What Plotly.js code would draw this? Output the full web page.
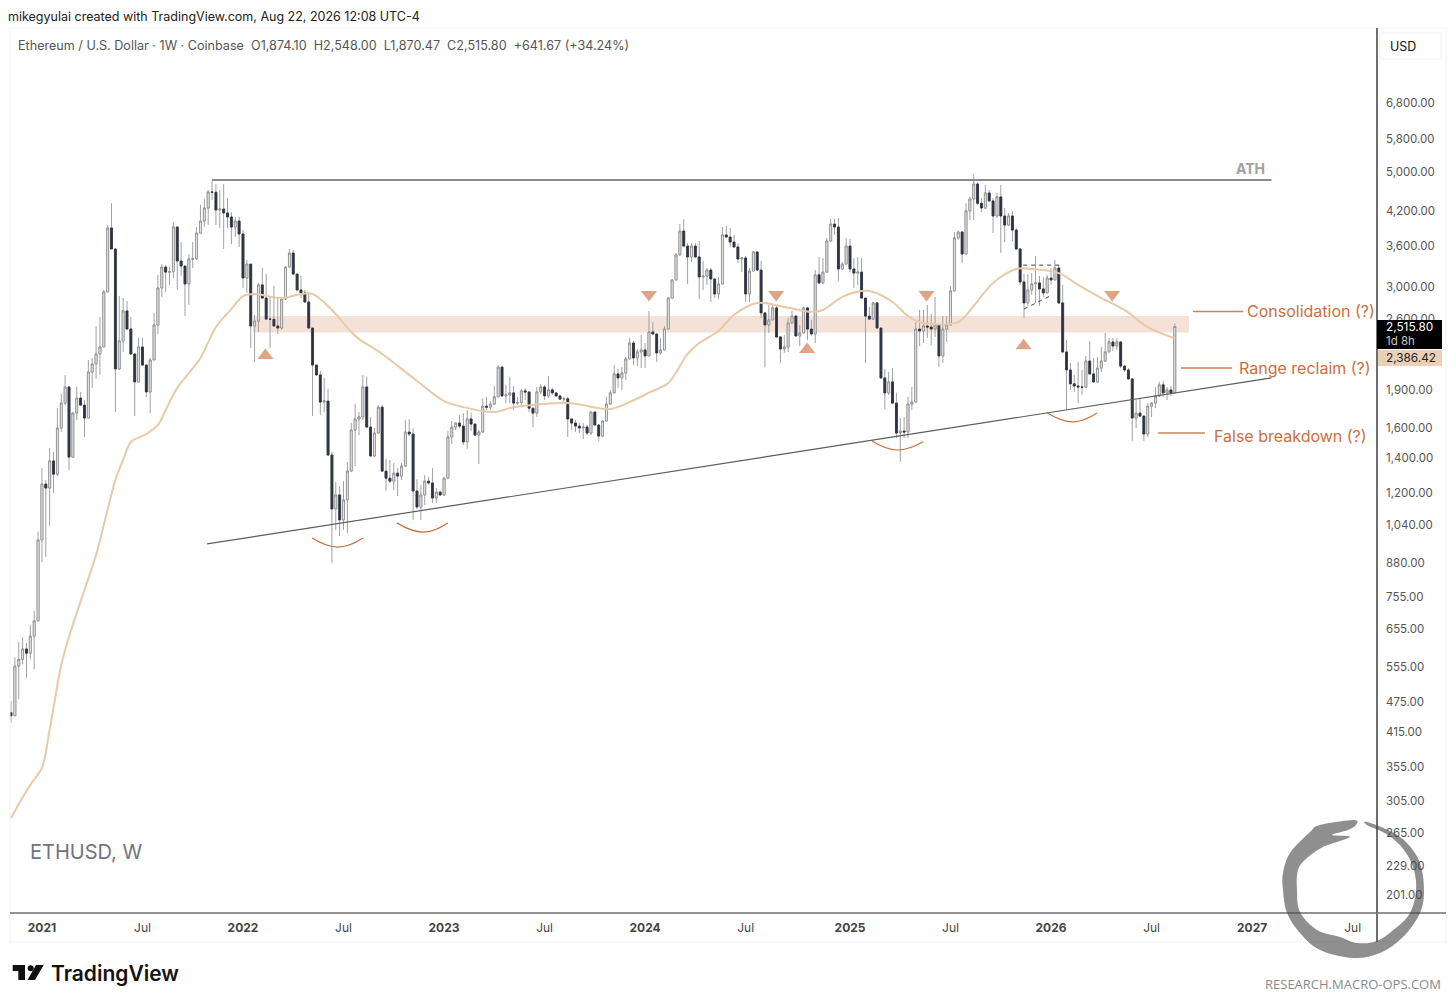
<!DOCTYPE html>
<html>
<head>
<meta charset="utf-8">
<title>ETHUSD, W</title>
<script src="https://cdn.plot.ly/plotly-3.0.1.min.js"></script>
<style>
  html, body { margin: 0; padding: 0; background: #ffffff; }
  #plot { width: 1456px; height: 1005px; }
</style>
</head>
<body>
<div id="plot"></div>
<script>
// weekly ETHUSD candles, first bar = week of 2020-11-09
const opens = [
  452,446,556,573,600,589,635,680,974,1249,
  1227,1384,1305,1602,1790,1923,1408,1712,1830,1774,
  1675,2055,2130,2227,2297,2934,3898,3551,2083,2360,
  2696,2488,2227,1967,2297,2120,1881,2168,2533,2986,
  3277,3204,3210,3915,3366,3292,3040,3396,3400,3811,
  4021,4260,4575,4570,4223,4240,4168,4094,3915,4021,
  3795,3121,3320,2522,2577,3027,2855,2600,2598,2522,
  2499,2843,3277,3487,3177,2960,2921,2806,2499,2120,
  2029,1798,1806,1421,1118,1190,1065,1164,1323,1588,
  1668,1683,1923,1609,1415,1567,1758,1323,1282,1265,
  1311,1294,1353,1574,1560,1211,1128,1190,1265,1255,
  1174,1205,1190,1282,1540,1609,1638,1616,1506,1668,
  1631,1553,1574,1766,1758,1782,1840,2101,1848,1856,
  1873,1790,1795,1890,1881,1750,1712,1881,1923,1848,
  1898,1873,1848,1822,1825,1668,1638,1616,1602,1609,
  1567,1720,1624,1546,1653,1782,1873,2038,2002,2047,
  2178,2338,2188,2247,2267,2207,2456,2434,2237,2267,
  2488,2855,3094,3458,3846,3597,3427,3597,3427,3135,
  3150,3234,3108,2908,3040,3780,3745,3662,3583,3396,
  3412,2908,3220,3503,3234,2673,2533,2590,2733,2402,
  2277,2297,2555,2635,2413,2445,2733,2488,2434,3165,
  3054,3204,3679,3968,3915,3249,3320,3597,3249,3190,
  3204,2855,2635,2600,2794,2499,2002,1873,1967,1790,
  1567,1581,1574,1782,1798,2488,2466,2522,2510,2488,
  2533,2207,2488,2533,2947,3730,3829,3472,4205,4435,
  4740,4350,4260,4555,4397,4112,4475,4112,3950,4112,
  3863,3551,3067,2794,2960,3040,3054,2973,2921,3121,
  3094,3263,2794,2247,2074,1950,1932,1923,1920,2158,
  2038,1967,2092,2158,2247,2349,2307,2349,2110,2074,
  1993,1675,1712,1690,1560,1766,1790,1848,1941,1873,
  1898,1874.10
];
const closes = [
  446,556,573,600,589,635,680,974,1249,1227,
  1384,1305,1602,1790,1923,1408,1712,1830,1774,1675,
  2055,2130,2227,2297,2934,3898,3551,2083,2360,2696,
  2488,2227,1967,2297,2120,1881,2168,2533,2986,3277,
  3204,3210,3915,3366,3292,3040,3396,3400,3811,4021,
  4260,4575,4570,4223,4240,4168,4094,3915,4021,3795,
  3121,3320,2522,2577,3027,2855,2600,2598,2522,2499,
  2843,3277,3487,3177,2960,2921,2806,2499,2120,2029,
  1798,1806,1421,1118,1190,1065,1164,1323,1588,1668,
  1683,1923,1609,1415,1567,1758,1323,1282,1265,1311,
  1294,1353,1574,1560,1211,1128,1190,1265,1255,1174,
  1205,1190,1282,1540,1609,1638,1616,1506,1668,1631,
  1553,1574,1766,1758,1782,1840,2101,1848,1856,1873,
  1790,1795,1890,1881,1750,1712,1881,1923,1848,1898,
  1873,1848,1822,1825,1668,1638,1616,1602,1609,1567,
  1720,1624,1546,1653,1782,1873,2038,2002,2047,2178,
  2338,2188,2247,2267,2207,2456,2434,2237,2267,2488,
  2855,3094,3458,3846,3597,3427,3597,3427,3135,3150,
  3234,3108,2908,3040,3780,3745,3662,3583,3396,3412,
  2908,3220,3503,3234,2673,2533,2590,2733,2402,2277,
  2297,2555,2635,2413,2445,2733,2488,2434,3165,3054,
  3204,3679,3968,3915,3249,3320,3597,3249,3190,3204,
  2855,2635,2600,2794,2499,2002,1873,1967,1790,1567,
  1581,1574,1782,1798,2488,2466,2522,2510,2488,2533,
  2207,2488,2533,2947,3730,3829,3472,4205,4435,4740,
  4350,4260,4555,4397,4112,4475,4112,3950,4112,3863,
  3551,3067,2794,2960,3040,3054,2973,2921,3121,3094,
  3263,2794,2247,2074,1950,1932,1923,1920,2158,2038,
  1967,2092,2158,2247,2349,2307,2349,2110,2074,1993,
  1675,1712,1690,1560,1766,1790,1848,1941,1873,1898,
  1873,2515.80
];
const highs = [
  476,578,619,632,616,668,711,1011,1341,1271,
  1467,1440,1751,1866,2028,1923,1720,1923,1881,1814,
  2168,2188,2522,2625,2960,3950,4350,3551,2880,2855,
  2818,2625,2227,2391,2391,2120,2188,2673,3165,3320,
  3306,3277,4003,3915,3662,3292,3465,3662,3915,4319,
  4435,4616,4825,4740,4616,4740,4453,4186,4094,4094,
  3863,3381,3320,2650,3054,3263,3177,2869,3013,2869,
  2869,3292,3551,3535,3177,3150,2960,2934,2499,2120,
  2065,2002,1907,1441,1260,1238,1265,1378,1640,1782,
  1720,2028,2011,1683,1602,1774,1774,1396,1390,1371,
  1341,1371,1660,1668,1602,1276,1244,1300,1288,1341,
  1227,1211,1288,1581,1653,1646,1698,1712,1735,1712,
  1631,1588,1830,1840,1806,1932,2120,2101,1941,2011,
  1932,1840,1907,1915,1881,1750,1923,1950,1941,2020,
  1915,1881,1848,1840,1840,1668,1660,1638,1638,1624,
  1727,1720,1624,1660,1840,1898,2120,2083,2101,2198,
  2391,2360,2277,2423,2338,2696,2565,2434,2391,2522,
  2869,3108,3487,3968,4057,3645,3645,3645,3679,3366,
  3263,3263,3108,3135,3915,3933,3898,3780,3645,3412,
  3443,3263,3519,3519,3366,2673,2769,2769,2757,2402,
  2423,2615,2696,2650,2533,2745,2745,2590,3234,3427,
  3412,3730,4057,4057,4075,3350,3730,3712,3412,3427,
  3412,2855,2745,2806,2806,2499,2083,2056,2092,1873,
  1675,1683,1840,1923,2565,2708,2708,2769,2661,2869,
  2533,2635,2635,3013,3829,3846,3846,4350,4475,4953,
  4780,4453,4720,4616,4453,4555,4720,4260,4168,4205,
  3898,3567,3177,3177,3190,3443,3150,3135,3165,3263,
  3381,3306,3027,2370,2140,2029,2150,2074,2207,2360,
  2188,2198,2297,2445,2391,2391,2391,2360,2120,2092,
  1993,1814,1830,1690,1790,1798,1923,1967,1975,1923,
  1932,2548.00
];
const lows = [
  432,445,480,561,528,573,548,680,883,903,
  1037,1200,1294,1574,1774,1329,1408,1660,1766,1540,
  1675,1915,1993,2029,2297,2934,3551,1720,2074,2247,
  2477,2217,1690,1958,2110,1840,1712,2168,2434,2869,
  2934,3027,3121,2960,3150,2635,2769,3263,3381,3811,
  3915,3950,4415,3950,3898,3551,3898,3628,3745,3583,
  2986,2921,2287,2150,2456,2843,2590,2287,2510,2434,
  2477,2831,3277,3165,2947,2855,2794,2488,1690,2020,
  1698,1720,1415,880,1018,991,1018,1004,1323,1353,
  1553,1660,1602,1408,1408,1560,1317,1211,1255,1216,
  1184,1271,1347,1546,1065,1118,1065,1138,1244,1149,
  1149,1184,1184,1282,1492,1588,1602,1486,1460,1581,
  1546,1365,1574,1735,1735,1774,1840,1840,1790,1790,
  1735,1774,1758,1814,1720,1609,1683,1864,1814,1830,
  1856,1840,1814,1798,1540,1588,1574,1567,1526,1553,
  1553,1616,1512,1540,1653,1782,1873,1915,1898,1984,
  2178,2120,2110,2092,2092,2207,2423,2150,2217,2267,
  2488,2855,3094,3458,3597,3040,3350,3412,2843,2960,
  3027,2806,2855,2843,3040,3730,3583,3567,3335,3204,
  2806,2806,3220,3220,2615,2101,2445,2590,2391,2140,
  2237,2247,2555,2402,2307,2445,2370,2413,2338,3040,
  3040,3204,3679,3780,3081,3234,3320,3204,2986,3027,
  2843,2140,2590,2635,2488,1993,1742,1856,1782,1533,
  1378,1533,1533,1735,1798,2307,2338,2391,2317,2402,
  2101,2140,2349,2533,2947,3696,3335,3472,4039,4039,
  4319,4186,4240,4378,3811,4075,3487,3662,3933,3679,
  3535,3027,2615,2757,2895,2794,2757,2869,2921,3027,
  3094,2781,2237,1742,1898,1881,1790,1856,1915,2029,
  1958,1958,2056,2150,2247,2257,2267,2092,2056,1984,
  1512,1602,1683,1512,1540,1683,1750,1840,1840,1814,
  1848,1870.47
];

// moving average, sampled along the tan line (week number, price)
const maWeeks = [0,3,5,8,10,13,15,19,22,27,29,31,35,38,40,43,49,53,57,60,63,70,75,78,83,88,90,96,105,112,117,125,130,144,155,160,165,170,175,178,183,187,193,200,207,210,215,220,223,228,232,236,245,249,254,260,264,271,276,282,288,294,301];
const maValues = [283,310,328,354,419,559,633,780,911,1271,1390,1506,1560,1624,1735,1915,2188,2510,2720,2880,2908,2855,2908,2908,2708,2456,2381,2227,1975,1806,1758,1720,1758,1790,1743,1798,1875,1958,2227,2338,2466,2650,2794,2745,2685,2708,2869,2947,2934,2806,2635,2555,2565,2757,3054,3249,3249,3190,3027,2855,2708,2510,2386.42];

const yTickVals = [6800,5800,5000,4200,3600,3000,2600,1900,1600,1400,1200,1040,880,755,655,555,475,415,355,305,265,229,201];
const yTickText = ["6,800.00","5,800.00","5,000.00","4,200.00","3,600.00","3,000.00","2,600.00","1,900.00","1,600.00","1,400.00","1,200.00","1,040.00","880.00","755.00","655.00","555.00","475.00","415.00","355.00","305.00","265.00","229.00","201.00"];
const xTickVals = ["2021-01-04","2021-07-05","2022-01-03","2022-07-04","2023-01-02","2023-07-03","2024-01-01","2024-07-01","2025-01-06","2025-07-07","2026-01-05","2026-07-06","2027-01-04","2027-07-05"];
const xTickText = ["<b>2021</b>","Jul","<b>2022</b>","Jul","<b>2023</b>","Jul","<b>2024</b>","Jul","<b>2025</b>","Jul","<b>2026</b>","Jul","<b>2027</b>","Jul"];

// drawings on the chart, week numbers and prices
const zoneWeeks = [62.6, 304.7], zonePrices = [2450, 2635];
const athWeeks = [52, 326], athPrice = 4825;
const trendWeeks = [50.7, 326], trendPrices = [957, 2002];
const upMarkWeeks = [65.8, 205.9, 261.9], upMarkPrices = [2211, 2272, 2310];
const downMarkWeeks = [165, 197.9, 236.8, 284.8], downMarkPrices = [2900, 2900, 2900, 2900];
const arcs = [
  { weeks: [77.9, 84.6, 91.05], prices: [983, 944, 983] },
  { weeks: [99.8, 106.6, 113], prices: [1051, 1009, 1051] },
  { weeks: [222.7, 229.2, 235.9], prices: [1512, 1453, 1507] },
  { weeks: [268, 274.7, 280.9], prices: [1712, 1646, 1712] },
];
const leaders = [
  { weeks: [305.7, 318.7], price: 2690 },
  { weeks: [302.6, 315.8], price: 2092 },
  { weeks: [296.7, 308.8], price: 1567 },
];
const dashes = [
  { weeks: [261.8, 272.1], prices: [3305, 3305] },
  { weeks: [262, 268.7], prices: [2720, 2880] },
];

const FIRST_WEEK = Date.UTC(2020, 10, 9);
const WEEK_MS = 7 * 24 * 3600 * 1000;
const weekAt = (i) => new Date(FIRST_WEEK + i * WEEK_MS).toISOString().slice(0, 19).replace("T", " ");
const weekDates = closes.map((_, i) => weekAt(i));

// page pixels to paper fractions, plot area is 10..1377 by 28..913
const px = (x) => (x - 10) / 1367;
const py = (y) => (913 - y) / 885;

const UI_FONT = "Inter, 'Liberation Sans', sans-serif";

function label(text, x, y, size, color, opts = {}) {
  return Object.assign({
    text, x: px(x), y: py(y), xref: "paper", yref: "paper",
    xanchor: "left", yanchor: "middle", showarrow: false,
    borderpad: 0, borderwidth: 0,
    font: { family: UI_FONT, size, color },
  }, opts);
}

function lineShape(x0, y0, x1, y1, color, width, dash) {
  return {
    type: "line", xref: "x", yref: "y", x0: weekAt(x0), x1: weekAt(x1), y0, y1,
    line: { color, width, dash: dash || "solid" },
  };
}

function paperLine(x0, y0, x1, y1, color, width) {
  return {
    type: "line", xref: "paper", yref: "paper", layer: "above",
    x0: px(x0), x1: px(x1), y0: py(y0), y1: py(y1),
    line: { color, width },
  };
}

function paperRect(x0, y0, x1, y1, fill, lineColor) {
  return {
    type: "rect", xref: "paper", yref: "paper", layer: "above",
    x0: px(x0), x1: px(x1), y0: py(y0), y1: py(y1),
    fillcolor: fill, line: { color: lineColor || fill, width: lineColor ? 1 : 0 },
  };
}

// closed curve through page pixels (catmull-rom)
function blobPath(pts) {
  const n = pts.length;
  const f = (x, y) => `${px(x).toFixed(5)},${py(y).toFixed(5)}`;
  let d = `M${f(pts[0][0], pts[0][1])}`;
  for (let i = 0; i < n; i++) {
    const p0 = pts[(i + n - 1) % n], p1 = pts[i], p2 = pts[(i + 1) % n], p3 = pts[(i + 2) % n];
    d += ` C${f(p1[0] + (p2[0] - p0[0]) / 6, p1[1] + (p2[1] - p0[1]) / 6)} ` +
      `${f(p2[0] - (p3[0] - p1[0]) / 6, p2[1] - (p3[1] - p1[1]) / 6)} ${f(p2[0], p2[1])}`;
  }
  return d + " Z";
}

function polyPath(pts) {
  return "M" + pts.map((p) => `${px(p[0]).toFixed(5)},${py(p[1]).toFixed(5)}`).join(" L") + " Z";
}

const ringOutline = [
  [1354,820],[1320,825],[1310,832],[1290,853],[1283,873],[1283,890],[1287,913],[1300,933],[1320,950],[1353,958],
  [1380,953],[1403,937],[1420,913],[1424,890],[1420,863],[1407,843],[1390,831],[1367,822],
  [1367,825],[1388,835],[1404,850],[1414,870],[1416,892],[1410,913],[1397,927],[1377,941],[1357,943],[1340,937],
  [1317,930],[1300,912],[1297,890],[1298,870],[1307,858],[1323,847],[1350,837],[1332,835],[1348,830],[1356,825],
];

const shapes = [
  { type: "rect", xref: "x", yref: "y", layer: "below", x0: weekAt(zoneWeeks[0]), x1: weekAt(zoneWeeks[1]), y0: zonePrices[0], y1: zonePrices[1], fillcolor: "#f4e2d9", line: { width: 0 } },
  lineShape(athWeeks[0], athPrice, athWeeks[1], athPrice, "#8a8a8a", 2),
  lineShape(trendWeeks[0], trendPrices[0], trendWeeks[1], trendPrices[1], "#5c5c5c", 1.2),
  ...leaders.map((l) => lineShape(l.weeks[0], l.price, l.weeks[1], l.price, "#cf8058", 1.5)),
  ...dashes.map((l) => lineShape(l.weeks[0], l.prices[0], l.weeks[1], l.prices[1], "#444444", 1, "4px,4px")),
  // panel frame and axis lines
  paperRect(10, 28, 1446, 942, "rgba(0,0,0,0)", "#f1f1f1"),
  paperLine(10, 913, 1446, 913, "#6f6f6f", 1.5),
  paperLine(1377, 28, 1377, 942, "#6f6f6f", 2),
  // USD box and price tags
  paperRect(1380, 33, 1441, 59, "#ffffff", "#efefef"),
  paperRect(1377, 320, 1442, 349, "#000000"),
  paperRect(1378, 350, 1442, 366, "#ead0b7"),
  // ouroboros watermark
  { type: "path", xref: "paper", yref: "paper", layer: "above", path: blobPath(ringOutline), fillcolor: "rgba(68,68,68,0.6)", line: { width: 0 } },
  // TradingView logo
  { type: "path", xref: "paper", yref: "paper", layer: "above", path: polyPath([[12.7,965],[25,965],[25,980],[18.3,980],[18.3,971],[12.7,971]]), fillcolor: "#111111", line: { width: 0 } },
  { type: "circle", xref: "paper", yref: "paper", layer: "above", x0: px(27.7), x1: px(33.7), y0: py(965.3), y1: py(971.3), fillcolor: "#111111", line: { width: 0 } },
  { type: "path", xref: "paper", yref: "paper", layer: "above", path: polyPath([[36,965],[43.7,965],[35,980],[27.5,980]]), fillcolor: "#111111", line: { width: 0 } },
];

const annotations = [
  label("mikegyulai created with TradingView.com, Aug 22, 2026 12:08 UTC-4", 8, 16.5, 12.5, "#222222"),
  label("Ethereum / U.S. Dollar · 1W · Coinbase &nbsp;O1,874.10 &nbsp;H2,548.00 &nbsp;L1,870.47 &nbsp;C2,515.80 &nbsp;+641.67 (+34.24%)", 18, 45.5, 12.6, "#555555"),
  label("ATH", 1236, 168, 14, "#a0a0a0", { text: "<b>ATH</b>" }),
  label("Consolidation (?)", 1375, 311, 16, "#c9703f", { xanchor: "right" }),
  label("Range reclaim (?)", 1371, 368, 16, "#c9703f", { xanchor: "right" }),
  label("False breakdown (?)", 1367, 436, 16, "#c9703f", { xanchor: "right" }),
  label("ETHUSD, W", 30, 852, 20, "#6f7480"),
  label("USD", 1390, 46, 12.5, "#111111"),
  label("2,515.80", 1386, 327.5, 11.8, "#ffffff"),
  label("1d 8h", 1386, 341, 11.5, "#c8c8c8"),
  label("2,386.42", 1386, 357.5, 11.8, "#222222"),
  label("TradingView", 51, 973, 20.7, "#111111", { font: { family: "Inter, sans-serif", size: 21, color: "#111111", weight: 600 } }),
  label("RESEARCH.MACRO-OPS.COM", 1441, 984, 13, "#8a8a8a", { xanchor: "right", font: { family: "'Open Sans', sans-serif", size: 13, color: "#8a8a8a" } }),
];

const traces = [
  // wicks in grey
  {
    type: "candlestick", x: weekDates, open: opens, high: highs, low: lows, close: closes,
    increasing: { line: { color: "#a0a0a0", width: 1 }, fillcolor: "#ffffff" },
    decreasing: { line: { color: "#a0a0a0", width: 1 }, fillcolor: "#ffffff" },
    hoverinfo: "skip",
  },
  // bodies on top, no wick
  {
    type: "candlestick", x: weekDates, open: opens, close: closes,
    high: opens.map((o, i) => Math.max(o, closes[i])),
    low: opens.map((o, i) => Math.min(o, closes[i])),
    increasing: { line: { color: "#8c8c8c", width: 0.8 }, fillcolor: "#efefef" },
    decreasing: { line: { color: "#2e3240", width: 0.8 }, fillcolor: "#2e3240" },
    hoverinfo: "skip",
  },
  {
    type: "scatter", mode: "lines", x: maWeeks.map(weekAt), y: maValues,
    line: { color: "#e8c9a8", width: 2, shape: "spline", smoothing: 0.9 }, hoverinfo: "skip",
  },
  ...arcs.map((a) => ({
    type: "scatter", mode: "lines", x: a.weeks.map(weekAt), y: a.prices,
    line: { color: "#c9703f", width: 1.2, shape: "spline", smoothing: 1.3 }, hoverinfo: "skip",
  })),
  {
    type: "scatter", mode: "markers", x: upMarkWeeks.map(weekAt), y: upMarkPrices,
    marker: { symbol: "triangle-up", size: 14, color: "#dfa484" }, hoverinfo: "skip",
  },
  {
    type: "scatter", mode: "markers", x: downMarkWeeks.map(weekAt), y: downMarkPrices,
    marker: { symbol: "triangle-down", size: 14, color: "#dfa484" }, hoverinfo: "skip",
  },
];

const layout = {
  width: 1456,
  height: 1005,
  margin: { l: 10, r: 79, t: 28, b: 92 },
  paper_bgcolor: "#ffffff",
  plot_bgcolor: "#ffffff",
  showlegend: false,
  hovermode: false,
  xaxis: {
    type: "date",
    range: [weekAt(-0.26), weekAt(353.3)],
    tickmode: "array",
    tickvals: xTickVals,
    ticktext: xTickText,
    ticks: "",
    showgrid: false,
    zeroline: false,
    showline: false,
    rangeslider: { visible: false },
    tickangle: 0,
    tickfont: { family: UI_FONT, size: 12, color: "#444444" },
    ticklabelstandoff: 6,
  },
  yaxis: {
    type: "log",
    side: "right",
    range: [2.26847, 3.97696],
    tickmode: "array",
    tickvals: yTickVals,
    ticktext: yTickText,
    ticks: "",
    showgrid: false,
    zeroline: false,
    showline: false,
    tickfont: { family: UI_FONT, size: 11.5, color: "#555555" },
    ticklabelstandoff: 8,
  },
  shapes,
  annotations,
};

Plotly.newPlot("plot", traces, layout, { displayModeBar: false, staticPlot: true });
</script>
</body>
</html>
